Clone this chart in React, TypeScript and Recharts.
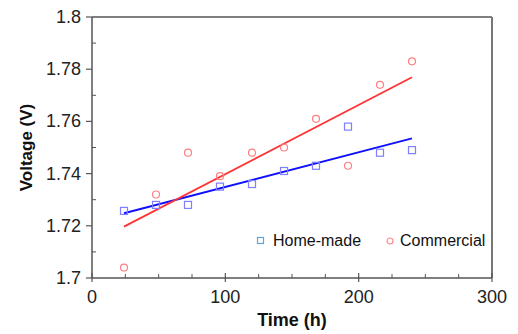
import {
  ComposedChart,
  Line,
  Scatter,
  XAxis,
  YAxis,
  ReferenceLine,
} from "recharts";

const hours = [24, 48, 72, 96, 120, 144, 168, 192, 216, 240];
const homeMade = [1.7257, 1.728, 1.728, 1.735, 1.736, 1.741, 1.743, 1.758, 1.748, 1.749];
const commercial = [1.704, 1.732, 1.748, 1.739, 1.748, 1.75, 1.761, 1.743, 1.774, 1.783];

// fitted lines, endpoints
const fitHours = [24, 240];
const homeMadeFit = [1.7248, 1.7535];
const commercialFit = [1.7197, 1.7769];

const xTicks = [0, 25, 50, 75, 100, 125, 150, 175, 200, 225, 250, 275, 300];
const yTicks = [1.7, 1.71, 1.72, 1.73, 1.74, 1.75, 1.76, 1.77, 1.78, 1.79, 1.8];

const homeData = hours.map((t, i) => ({ t, v: homeMade[i] }));
const commData = hours.map((t, i) => ({ t, v: commercial[i] }));
const homeFitData = fitHours.map((t, i) => ({ t, v: homeMadeFit[i] }));
const commFitData = fitHours.map((t, i) => ({ t, v: commercialFit[i] }));

const AXIS = "#555";
const FONT = "Arial, 'Liberation Sans', sans-serif";

function XTick({ x, y, payload }: any) {
  const v = payload.value;
  const major = v % 100 === 0;
  return (
    <g>
      {major ? (
        <line x1={x} x2={x} y1={y - 5} y2={y + 4} stroke={AXIS} strokeWidth={1.2} />
      ) : (
        <line x1={x} x2={x} y1={y - 4} y2={y} stroke={AXIS} strokeWidth={1} />
      )}
      {major && (
        <text x={x} y={y + 19} textAnchor="middle" dominantBaseline="central" fontSize={18} fill="#222" fontFamily={FONT}>
          {v}
        </text>
      )}
    </g>
  );
}

function YTick({ x, y, payload }: any) {
  const v = payload.value;
  const major = Math.round(v * 100) % 2 === 0;
  return (
    <g>
      {major ? (
        <line x1={x - 6} x2={x} y1={y} y2={y} stroke={AXIS} strokeWidth={1.2} />
      ) : (
        <line x1={x} x2={x + 4} y1={y} y2={y} stroke={AXIS} strokeWidth={1} />
      )}
      {major && (
        <text x={x - 11} y={y} textAnchor="end" dominantBaseline="central" fontSize={18} fill="#222" fontFamily={FONT}>
          {Number(v.toFixed(2)).toString()}
        </text>
      )}
    </g>
  );
}

function Square({ cx, cy }: any) {
  return <rect x={cx - 3.5} y={cy - 3.5} width={7} height={7} fill="none" stroke="#7f7fff" strokeWidth={1.2} />;
}

function Ring({ cx, cy }: any) {
  return <circle cx={cx} cy={cy} r={3.5} fill="none" stroke="#ff8080" strokeWidth={1.2} />;
}

function LegendBox() {
  return (
    <div
      style={{
        position: "absolute",
        left: 256,
        top: 232,
        display: "flex",
        alignItems: "center",
        fontFamily: FONT,
        fontSize: 16,
        color: "#111",
        lineHeight: "18px",
      }}
    >
      <svg width={10} height={10} style={{ marginRight: 7 }}>
        <rect x={1.5} y={1.5} width={6} height={6} fill="none" stroke="#5aa6de" strokeWidth={1.2} />
      </svg>
      <span>Home-made</span>
      <svg width={10} height={10} style={{ marginLeft: 24, marginRight: 5 }}>
        <circle cx={5} cy={5} r={3} fill="none" stroke="#ff8a8a" strokeWidth={1.2} />
      </svg>
      <span>Commercial</span>
    </div>
  );
}

export default function App() {
  return (
    <div style={{ position: "absolute", left: 0, top: 0, width: 518, height: 334, background: "#fff" }}>
      <ComposedChart width={518} height={334} margin={{ top: 17, right: 26, bottom: 0, left: 0 }}>
        <XAxis
          dataKey="t"
          type="number"
          domain={[0, 300]}
          ticks={xTicks}
          interval={0}
          height={56}
          tickSize={0}
          tickMargin={0}
          tickLine={false}
          axisLine={{ stroke: AXIS, strokeWidth: 1.5 }}
          tick={<XTick />}
          allowDuplicatedCategory={false}
          label={{
            value: "Time (h)",
            position: "insideBottom",
            offset: 8,
            style: { fontFamily: FONT, fontWeight: 700, fontSize: 18, fill: "#111" },
          }}
        />
        <YAxis
          dataKey="v"
          type="number"
          domain={[1.7, 1.8]}
          ticks={yTicks}
          interval={0}
          width={92}
          tickSize={0}
          tickMargin={0}
          tickLine={false}
          axisLine={{ stroke: AXIS, strokeWidth: 1.5 }}
          tick={<YTick />}
          label={{
            value: "Voltage (V)",
            angle: -90,
            position: "insideLeft",
            offset: 26,
            style: { fontFamily: FONT, fontWeight: 700, fontSize: 17, fill: "#111", textAnchor: "middle" },
          }}
        />
        <ReferenceLine y={1.8} stroke={AXIS} strokeWidth={1.5} />
        <ReferenceLine x={300} stroke="#777" strokeWidth={2} />
        <Scatter data={homeData} dataKey="v" shape={<Square />} isAnimationActive={false} />
        <Scatter data={commData} dataKey="v" shape={<Ring />} isAnimationActive={false} />
        <Line data={homeFitData} dataKey="v" stroke="#1010ff" strokeWidth={2} dot={false} isAnimationActive={false} />
        <Line data={commFitData} dataKey="v" stroke="#ff3333" strokeWidth={1.8} dot={false} isAnimationActive={false} />
      </ComposedChart>
      <LegendBox />
    </div>
  );
}
